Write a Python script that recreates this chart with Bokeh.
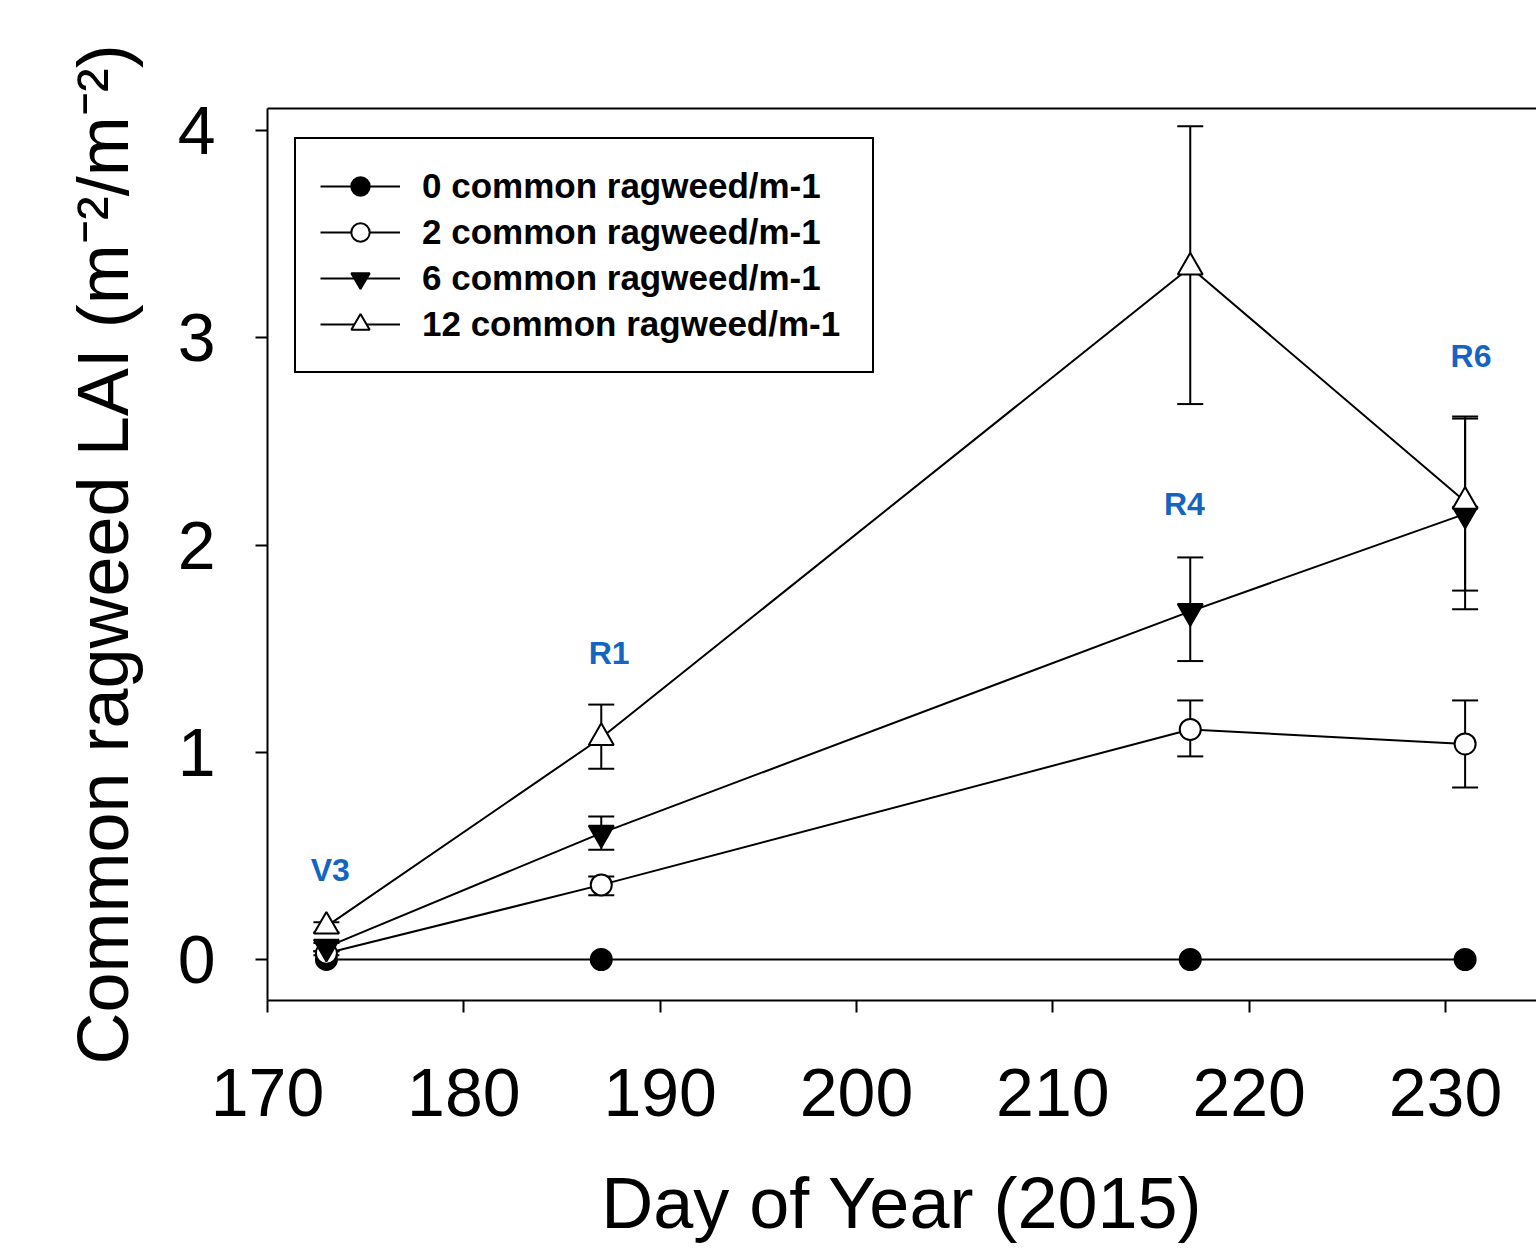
from bokeh.plotting import figure
from bokeh.models import (ColumnDataSource, Whisker, TeeHead, Range1d, LinearAxis, FixedTicker)
from bokeh.embed import file_html
from bokeh.resources import INLINE
from bokeh.core.properties import value

# ---------------- data ----------------
day = [173, 187, 217, 231]
lai_0 = [0.0, 0.0, 0.0, 0.0]
lai_2 = [0.03, 0.36, 1.11, 1.04]
lai_2_lo = [0.02, 0.31, 0.98, 0.83]
lai_2_hi = [0.04, 0.40, 1.25, 1.25]
lai_6 = [0.06, 0.61, 1.68, 2.15]
lai_6_lo = [0.04, 0.53, 1.44, 1.69]
lai_6_hi = [0.08, 0.69, 1.94, 2.61]
lai_12 = [0.16, 1.07, 3.34, 2.21]
lai_12_lo = [0.13, 0.92, 2.68, 1.78]
lai_12_hi = [0.18, 1.23, 4.02, 2.62]
series_names = ["0 common ragweed/m-1", "2 common ragweed/m-1",
                "6 common ragweed/m-1", "12 common ragweed/m-1"]
stage_names = ["V3", "R1", "R4", "R6"]
stage_x = [173.2, 187.4, 216.7, 231.3]
stage_y = [0.43, 1.48, 2.20, 2.91]
x_ticks = [170, 180, 190, 200, 210, 220, 230]
y_ticks = [0, 1, 2, 3, 4]
x_title = "Day of Year (2015)"
y_title = "Common ragweed LAI (m\u207b\u00b2/m\u207b\u00b2)"

FONT = "Liberation Sans"
W, H = 1536, 1246
FRAME_L, FRAME_T, FRAME_B = 267, 108, 1000
X0, X1 = 170, 170 + (W - FRAME_L) / 19.633
Y0 = -(1000 - 959) / 207.25
Y1 = (959 - 108) / 207.25

p = figure(width=W, height=H, x_range=Range1d(X0, X1), y_range=Range1d(Y0, Y1),
           output_backend="svg", toolbar_location=None,
           min_border_left=FRAME_L, min_border_top=FRAME_T,
           min_border_bottom=H - FRAME_B, min_border_right=0)
p.outline_line_color = None
p.xgrid.visible = False
p.ygrid.visible = False
p.background_fill_color = "white"
p.border_fill_color = "white"

for ax in (p.xaxis[0], p.yaxis[0]):
    ax.axis_line_width = 2
    ax.axis_line_color = "black"
    ax.major_tick_line_width = 2
    ax.major_tick_line_color = "black"
    ax.major_tick_out = 12
    ax.major_tick_in = 0
    ax.minor_tick_line_color = None
    ax.major_label_text_font = FONT
    ax.major_label_text_font_size = "68px"
    ax.major_label_text_color = "black"
    ax.axis_label_text_font = FONT
    ax.axis_label_text_font_size = "72px"
    ax.axis_label_text_font_style = "normal"
    ax.axis_label_text_color = "black"
p.xaxis.ticker = FixedTicker(ticks=x_ticks)
p.yaxis.ticker = FixedTicker(ticks=y_ticks)
p.xaxis.major_label_standoff = 56
p.yaxis.major_label_standoff = 40
p.xaxis.axis_label = x_title
p.yaxis.axis_label = y_title
p.xaxis.axis_label_standoff = 44
p.yaxis.axis_label_standoff = 32

top_ax = LinearAxis(ticker=FixedTicker(ticks=[]), axis_line_width=2, axis_line_color="black",
                    major_tick_line_color=None, minor_tick_line_color=None)
p.add_layout(top_ax, "above")

# ---------------- series ----------------
styles = [
    (lai_0, None, None, "circle", 21, "black"),
    (lai_2, lai_2_lo, lai_2_hi, "circle", 21, "white"),
    (lai_6, lai_6_lo, lai_6_hi, "inverted_triangle", 25, "black"),
    (lai_12, lai_12_lo, lai_12_hi, "triangle", 25, "white"),
]
for name, (vals, lo, hi, marker, size, fill) in zip(series_names, styles):
    src = ColumnDataSource(dict(x=day, y=vals))
    p.line("x", "y", source=src, line_color="black", line_width=2, legend_label=name)
    if lo is not None:
        wsrc = ColumnDataSource(dict(x=day, lo=lo, hi=hi))
        w = Whisker(base="x", lower="lo", upper="hi", source=wsrc, dimension="height",
                    line_width=2, line_color="black",
                    upper_head=TeeHead(size=26, line_width=2, line_color="black"),
                    lower_head=TeeHead(size=26, line_width=2, line_color="black"))
        p.add_layout(w)
    p.scatter("x", "y", source=src, marker=marker, size=size, fill_color=fill,
              line_color="black", line_width=2, legend_label=name)

# growth stage labels
ssrc = ColumnDataSource(dict(x=stage_x, y=stage_y, t=stage_names))
p.text("x", "y", text="t", source=ssrc, text_font=value(FONT), text_font_style="bold",
       text_font_size="32px", text_color="#1565c0", text_align="center",
       text_baseline="middle")

# ---------------- legend ----------------
lg = p.legend[0]
lg.location = (27, 627)
lg.border_line_color = "black"
lg.border_line_alpha = 1
lg.border_line_width = 2
lg.background_fill_color = "white"
lg.background_fill_alpha = 1
lg.padding = 24
lg.spacing = 0
lg.margin = 0
lg.glyph_width = 80
lg.glyph_height = 46
lg.label_standoff = 22
lg.label_text_font = FONT
lg.label_text_font_style = "bold"
lg.label_text_font_size = "35px"
lg.label_text_color = "black"
lg.label_width = 426

open("out.html", "w").write(file_html(p, INLINE))
